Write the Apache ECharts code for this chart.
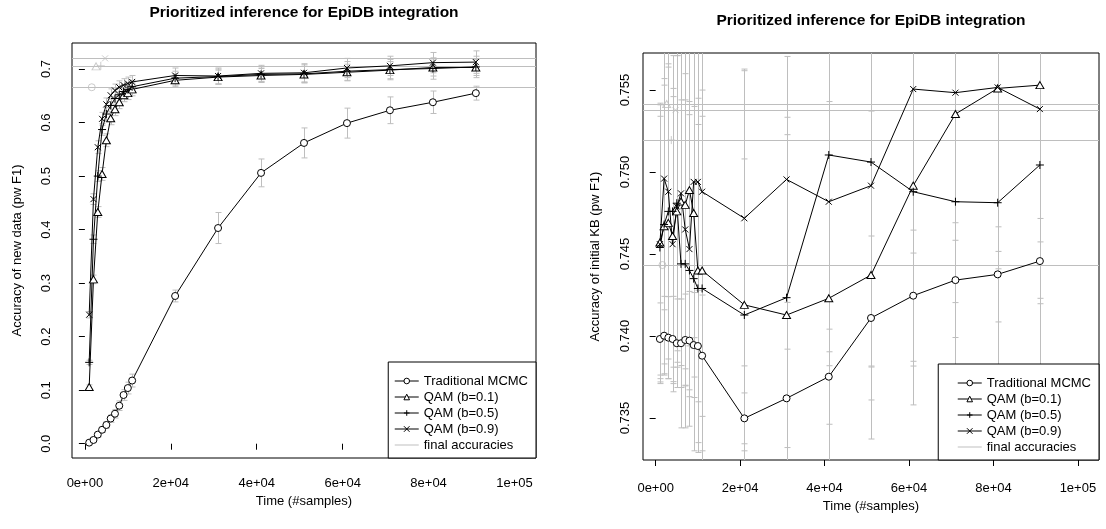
<!DOCTYPE html>
<html><head><meta charset="utf-8">
<script src="https://cdn.jsdelivr.net/npm/echarts@6/dist/echarts.min.js"></script>
<style>html,body{margin:0;padding:0;background:#fff}#c{width:1106px;height:529px}</style>
</head><body><div id="c"></div>
<script>
// ---------------- data ----------------
const samples = [1000,2000,3000,4000,5000,6000,7000,8000,9000,10000,11000,21000,31000,41000,51000,61000,71000,81000,91000];
const seriesNames = ['Traditional MCMC','QAM (b=0.1)','QAM (b=0.5)','QAM (b=0.9)'];
const finalName = 'final accuracies';
const titleText = 'Prioritized inference for EpiDB integration';
const xName = 'Time (#samples)';
const yNameNew = 'Accuracy of new data (pw F1)';
const yNameKB = 'Accuracy of initial KB (pw F1)';

// left panel: accuracy of new data
const newMCMC = [0.002,0.007,0.017,0.026,0.035,0.047,0.056,0.071,0.091,0.104,0.118,0.276,0.403,0.506,0.562,0.599,0.623,0.638,0.655];
const newQ01  = [0.106,0.307,0.433,0.504,0.567,0.608,0.625,0.638,0.651,0.655,0.662,0.679,0.685,0.688,0.690,0.694,0.698,0.703,0.703];
const newQ05  = [0.152,0.382,0.500,0.587,0.616,0.632,0.645,0.652,0.658,0.662,0.667,0.683,0.686,0.690,0.691,0.696,0.699,0.701,0.704];
const newQ09  = [0.241,0.457,0.554,0.607,0.634,0.651,0.660,0.666,0.670,0.673,0.676,0.688,0.687,0.692,0.693,0.702,0.706,0.712,0.713];
const newMCMCErr = [0.002,0.003,0.004,0.005,0.006,0.007,0.008,0.009,0.010,0.011,0.012,0.011,0.029,0.026,0.028,0.028,0.025,0.021,0.013];
const newQ01Err  = [0.004,0.008,0.010,0.012,0.012,0.012,0.012,0.012,0.012,0.012,0.012,0.012,0.013,0.013,0.015,0.015,0.016,0.016,0.015];
const newQ05Err  = [0.004,0.008,0.010,0.011,0.012,0.012,0.012,0.012,0.012,0.012,0.012,0.013,0.014,0.014,0.017,0.018,0.019,0.020,0.020];
const newQ09Err  = [0.006,0.010,0.012,0.012,0.012,0.012,0.012,0.012,0.012,0.012,0.012,0.014,0.015,0.015,0.017,0.018,0.018,0.019,0.021];

// right panel: accuracy of initial KB
const kbMCMC = [0.73982,0.74002,0.7399,0.73982,0.73956,0.73956,0.73976,0.73972,0.73945,0.73939,0.7388,0.73498,0.7362,0.73752,0.7411,0.74246,0.74341,0.74376,0.74457];
const kbQ01  = [0.7457,0.7467,0.7469,0.7461,0.7476,0.7482,0.7480,0.7489,0.7475,0.7440,0.7440,0.7419,0.74128,0.7423,0.74372,0.74917,0.75354,0.7551,0.7553];
const kbQ05  = [0.7454,0.7468,0.7476,0.7476,0.7481,0.7444,0.7444,0.7440,0.7435,0.7429,0.7429,0.74128,0.74234,0.75104,0.75061,0.7488,0.74819,0.74813,0.75043];
const kbQ09  = [0.7456,0.7496,0.7488,0.7456,0.7479,0.7487,0.7465,0.7453,0.7494,0.7494,0.7488,0.74718,0.74955,0.74819,0.74917,0.75506,0.75484,0.75516,0.75384];
const kbMCMCErr = [0.0022,0.0024,0.0025,0.0026,0.0027,0.0027,0.0028,0.0030,0.0032,0.0034,0.0037,0.00155,0.0030,0.0029,0.0050,0.0040,0.0035,0.0029,0.0026];
const kbQ01Err  = [0.0085,0.0090,0.0095,0.0090,0.0095,0.0100,0.0100,0.0095,0.0100,0.0105,0.0110,0.0089,0.0110,0.0120,0.0100,0.0110,0.0115,0.0110,0.0130];
const kbQ05Err  = [0.0080,0.0085,0.0090,0.0095,0.0090,0.0100,0.0100,0.0095,0.0105,0.0100,0.0105,0.0150,0.0110,0.0120,0.0125,0.0130,0.0120,0.0125,0.0125];
const kbQ09Err  = [0.0085,0.0080,0.0090,0.0090,0.0095,0.0090,0.0095,0.0090,0.0095,0.0100,0.0100,0.0090,0.0075,0.0100,0.0110,0.0100,0.0090,0.0100,0.0081];

// final accuracies (gray markers + horizontal lines)
const finalSampleX = [1600,2600,3700,4700];
const finalNew = [0.666,0.705,0.706,0.720];
const finalKB  = [0.74433,0.75415,0.75195,0.75378];

// ticks
const xTicks = [0,20000,40000,60000,80000,100000];
const xTickLabels = ['0e+00','2e+04','4e+04','6e+04','8e+04','1e+05'];
const newTicks = [0,0.1,0.2,0.3,0.4,0.5,0.6,0.7];
const newTickLabels = ['0.0','0.1','0.2','0.3','0.4','0.5','0.6','0.7'];
const kbTicks = [0.735,0.740,0.745,0.750,0.755];
const kbTickLabels = ['0.735','0.740','0.745','0.750','0.755'];

// ---------------- styling ----------------
const FONT = '"Liberation Sans", Arial, Helvetica, sans-serif';
const GRAY = '#BEBEBE';
const SYM = {
  circle: 'circle',
  tri: 'path://M5,0L10,8.66L0,8.66Z',
  plus: 'path://M5,0L5,10M0,5L10,5',
  cross: 'path://M0,0L10,10M10,0L0,10'
};
const symList = [SYM.circle, SYM.tri, SYM.plus, SYM.cross];
const symSize = [7, [8,7], 8, 6];
const symFill = ['#fff', '#fff', 'none', 'none'];

function lbl(ticks, labels, v) {
  for (let i = 0; i < ticks.length; i++) if (Math.abs(ticks[i] - v) < 1e-9) return labels[i];
  return '';
}

function renderErr(params, api) {
  const cs = params.coordSys;
  const x = api.value(0);
  const lo = api.coord([x, api.value(1)]);
  const hi = api.coord([x, api.value(2)]);
  const top = cs.y, bot = cs.y + cs.height;
  const px = Math.round(lo[0]) + 0.5;
  const y1 = Math.max(hi[1], top), y2 = Math.min(lo[1], bot);
  const w = 3;
  const st = {stroke: GRAY, lineWidth: 1};
  const ch = [];
  if (y2 > y1) ch.push({type: 'line', shape: {x1: px, y1: y1, x2: px, y2: y2}, style: st});
  if (hi[1] >= top && hi[1] <= bot) ch.push({type: 'line', shape: {x1: px - w, y1: hi[1], x2: px + w, y2: hi[1]}, style: st});
  if (lo[1] <= bot && lo[1] >= top) ch.push({type: 'line', shape: {x1: px - w, y1: lo[1], x2: px + w, y2: lo[1]}, style: st});
  return {type: 'group', children: ch};
}

function renderHLine(params, api) {
  const cs = params.coordSys;
  const p = api.coord([api.value(0), api.value(1)]);
  const y = Math.round(p[1]) + 0.5;
  return {type: 'line', shape: {x1: cs.x, y1: y, x2: cs.x + cs.width, y2: y}, style: {stroke: GRAY, lineWidth: 1}};
}

function errSeries(ys, errs, gi) {
  return {
    type: 'custom', xAxisIndex: gi, yAxisIndex: gi, silent: true, animation: false, z: 1,
    data: samples.map((x, i) => [x, ys[i] - errs[i], ys[i] + errs[i]]),
    encode: {x: 0, y: [1, 2]},
    renderItem: renderErr
  };
}

function lineSeries(k, ys, gi) {
  return {
    type: 'line', name: seriesNames[k], xAxisIndex: gi, yAxisIndex: gi,
    data: samples.map((x, i) => [x, ys[i]]),
    symbol: symList[k], symbolSize: symSize[k], showSymbol: true, showAllSymbol: true,
    lineStyle: {color: '#000', width: 1},
    itemStyle: {color: symFill[k], borderColor: '#000', borderWidth: 1},
    emphasis: {disabled: true}, animation: false, z: 3, clip: true
  };
}

function finalSeries(vals, gi) {
  const out = [{
    type: 'custom', name: finalName, xAxisIndex: gi, yAxisIndex: gi, silent: true, animation: false, z: 1,
    itemStyle: {color: GRAY},
    data: vals.map((v, k) => [finalSampleX[k], v]),
    encode: {x: 0, y: 1},
    renderItem: renderHLine
  }];
  for (let k = 0; k < 4; k++) {
    out.push({
      type: 'scatter', xAxisIndex: gi, yAxisIndex: gi, silent: true, animation: false, z: 2,
      data: [[finalSampleX[k], vals[k]]],
      symbol: symList[k], symbolSize: symSize[k],
      itemStyle: {color: 'none', borderColor: GRAY, borderWidth: 1}
    });
  }
  return out;
}

function mkX(gi, labelMargin, nameGap) {
  return {
    type: 'value', gridIndex: gi, min: -3000, max: 105000,
    splitLine: {show: false}, axisLine: {show: false},
    axisTick: {show: true, customValues: xTicks, length: 6, lineStyle: {color: '#000', width: 1}},
    axisLabel: {customValues: xTicks, formatter: v => lbl(xTicks, xTickLabels, v), margin: labelMargin,
      color: '#000', fontSize: 13, fontFamily: FONT},
    name: xName, nameLocation: 'middle', nameGap: nameGap,
    nameTextStyle: {color: '#000', fontSize: 13, fontFamily: FONT}
  };
}
function mkY(gi, min, max, ticks, labels, labelMargin, name, nameGap) {
  return {
    type: 'value', gridIndex: gi, min: min, max: max,
    splitLine: {show: false}, axisLine: {show: false},
    axisTick: {show: true, customValues: ticks, length: 6, lineStyle: {color: '#000', width: 1}},
    axisLabel: {customValues: ticks, formatter: v => lbl(ticks, labels, v), rotate: 90, margin: labelMargin,
      color: '#000', fontSize: 13, fontFamily: FONT},
    name: name, nameLocation: 'middle', nameGap: nameGap,
    nameTextStyle: {color: '#000', fontSize: 13, fontFamily: FONT}
  };
}
function mkLegend(right, bottom, padding) {
  return {
    orient: 'vertical', right: right, bottom: bottom, selectedMode: false,
    data: seriesNames.concat([{name: finalName, icon: 'path://M0,0H24V1H0Z',
      itemStyle: {color: GRAY, borderColor: GRAY, borderWidth: 0}}]),
    itemWidth: 24, itemHeight: 7, itemGap: 2, padding: padding,
    borderColor: '#000', borderWidth: 1, borderRadius: 0, backgroundColor: '#fff',
    lineStyle: {width: 1, color: '#000'},
    itemStyle: {borderWidth: 1},
    textStyle: {color: '#000', fontSize: 13, fontFamily: FONT, lineHeight: 14}
  };
}

const series = [];
[[newMCMC,newMCMCErr],[newQ01,newQ01Err],[newQ05,newQ05Err],[newQ09,newQ09Err]].forEach(p => series.push(errSeries(p[0], p[1], 0)));
[[kbMCMC,kbMCMCErr],[kbQ01,kbQ01Err],[kbQ05,kbQ05Err],[kbQ09,kbQ09Err]].forEach(p => series.push(errSeries(p[0], p[1], 1)));
[newMCMC,newQ01,newQ05,newQ09].forEach((ys, k) => series.push(lineSeries(k, ys, 0)));
[kbMCMC,kbQ01,kbQ05,kbQ09].forEach((ys, k) => series.push(lineSeries(k, ys, 1)));
finalSeries(finalNew, 0).forEach(s => series.push(s));
finalSeries(finalKB, 1).forEach(s => series.push(s));

const chart = echarts.init(document.getElementById('c'), null, {renderer: 'canvas'});
chart.setOption({
  animation: false,
  backgroundColor: '#fff',
  grid: [
    {left: 72, top: 43, width: 464, height: 415, show: true, borderColor: '#000', borderWidth: 1, backgroundColor: 'transparent', outerBoundsMode: 'none'},
    {left: 643, top: 53, width: 456, height: 407, show: true, borderColor: '#000', borderWidth: 1, backgroundColor: 'transparent', outerBoundsMode: 'none'}
  ],
  xAxis: [mkX(0, 19, 37), mkX(1, 22, 40)],
  yAxis: [
    mkY(0, -0.0267, 0.7487, newTicks, newTickLabels, 19, yNameNew, 48),
    mkY(1, 0.73244, 0.75726, kbTicks, kbTickLabels, 11, yNameKB, 41)
  ],
  legend: [mkLegend(570, 71, [12, 8, 6, 6]), mkLegend(7, 69, [12, 8, 6, 19])],
  graphic: [
    {type: 'text', x: 304, y: 13, silent: true, style: {text: titleText, fill: '#000', fontSize: 15.5, fontWeight: 'bold', fontFamily: FONT, align: 'center', verticalAlign: 'middle'}},
    {type: 'text', x: 871, y: 21, silent: true, style: {text: titleText, fill: '#000', fontSize: 15.5, fontWeight: 'bold', fontFamily: FONT, align: 'center', verticalAlign: 'middle'}}
  ],
  series: series
});
</script>
</body></html>
